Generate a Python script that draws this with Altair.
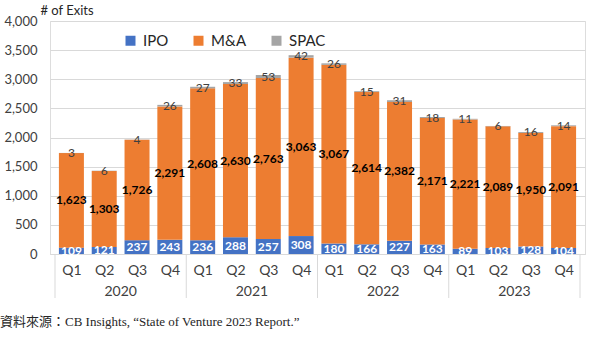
import json
import altair as alt
import pandas as pd

years = ["2020", "2021", "2022", "2023"]
quarters = ["Q1", "Q2", "Q3", "Q4"]
series = ["IPO", "M&A", "SPAC"]
colors = ["#4472C4", "#ED7D31", "#A5A5A5"]
ipo = [109, 121, 237, 243, 236, 288, 257, 308, 180, 166, 227, 163, 89, 103, 128, 104]
ma = [1623, 1303, 1726, 2291, 2608, 2630, 2763, 3063, 3067, 2614, 2382, 2171, 2221, 2089, 1950, 2091]
spac = [3, 6, 4, 26, 27, 33, 53, 42, 26, 15, 31, 18, 11, 6, 16, 14]
source = "資料來源：CB Insights, “State of Venture 2023 Report.”"

FONT = "Lato"
nq = len(quarters)
n = len(years) * nq

rows = []
for i in range(n):
    for k, (s, vals) in enumerate(zip(series, [ipo, ma, spac])):
        rows.append(dict(idx=i, year=years[i // nq], quarter=quarters[i % nq],
                         series=s, ord=k, value=vals[i]))
df = pd.DataFrame(rows)

year_df = pd.DataFrame({"year": years,
                        "pos": [j * nq + (nq - 1) / 2 for j in range(len(years))]})
sep_df = pd.DataFrame({"b": [j * nq - 0.5 for j in range(len(years) + 1)]})
src_df = pd.DataFrame({"t": [source]})

W, H = 535, 233
xscale = alt.Scale(domain=[-0.5, n - 0.5], nice=False, zero=False)
yscale = alt.Scale(domain=[0, 4000], nice=False)
label_expr = json.dumps(quarters) + "[datum.value % " + str(nq) + "]"

base = alt.Chart(df).transform_stack(
    stack="value", as_=["v0", "v1"], groupby=["idx"],
    sort=[alt.SortField("ord", order="ascending")]
).transform_calculate(mid="(datum.v0 + datum.v1) / 2")

bars = base.mark_bar(size=25).encode(
    x=alt.X("idx:Q", scale=xscale,
            axis=alt.Axis(values=list(range(n)), labelExpr=label_expr, title=None,
                          ticks=False, grid=False, domainColor="#d9d9d9",
                          labelFontSize=14, labelColor="#404040", labelPadding=9,
                          labelFont=FONT)),
    y=alt.Y("v0:Q", scale=yscale,
            axis=alt.Axis(values=list(range(0, 4001, 500)), format=",d", grid=True,
                          gridColor="#d9d9d9", domain=False, ticks=False,
                          labelFontSize=13, labelColor="#404040", labelPadding=13,
                          labelFont=FONT,
                          title="# of Exits", titleAngle=0, titleX=-10, titleY=-11,
                          titleAlign="left", titleBaseline="middle",
                          titleFontWeight="normal", titleFontSize=13,
                          titleFont=FONT, titleColor="#262626")),
    y2="v1:Q",
    color=alt.Color("series:N", scale=alt.Scale(domain=series, range=colors),
                    legend=alt.Legend(title=None, orient="none", direction="horizontal",
                                      legendX=73, legendY=12, symbolType="square",
                                      symbolSize=100, symbolStrokeWidth=0,
                                      labelFontSize=15, labelFont=FONT,
                                      labelColor="#262626", columnPadding=22,
                                      labelOffset=5)),
)


def seg_text(name, color, weight):
    return base.transform_filter(alt.datum.series == name).mark_text(
        color=color, fontWeight=weight, fontSize=12, font=FONT, baseline="middle"
    ).encode(
        x=alt.X("idx:Q", scale=xscale, axis=None),
        y=alt.Y("mid:Q", scale=yscale, axis=None),
        text=alt.Text("value:Q", format=","),
    )


t_ipo = seg_text("IPO", "white", "bold")
t_ma = seg_text("M&A", "black", "bold")
t_spac = seg_text("SPAC", "#404040", "normal")

year_text = alt.Chart(year_df).mark_text(
    fontSize=14, font=FONT, color="#404040", baseline="middle"
).encode(
    x=alt.X("pos:Q", scale=xscale, axis=None),
    y=alt.value(271),
    text="year:N",
)

seps = alt.Chart(sep_df).mark_rule(color="#d9d9d9", strokeWidth=1).encode(
    x=alt.X("b:Q", scale=xscale, axis=None),
    y=alt.value(H),
    y2=alt.value(H + 44),
)

src = alt.Chart(src_df).mark_text(
    align="left", baseline="middle", fontSize=13,
    font="Liberation Serif, Noto Sans CJK TC", color="#262626"
).encode(
    x=alt.value(-50),
    y=alt.value(301),
    text="t:N",
)

chart = alt.layer(bars, t_ipo, t_ma, t_spac, seps, year_text, src).resolve_axis(
    x="independent", y="independent"
).properties(
    width=W, height=H,
    autosize=alt.AutoSizeParams(type="none"),
    padding={"left": 50, "top": 21, "right": 15, "bottom": 84},
).configure_view(stroke=None).configure(background="white")

chart.save("out.html", embed_options={"renderer": "svg", "actions": False})
